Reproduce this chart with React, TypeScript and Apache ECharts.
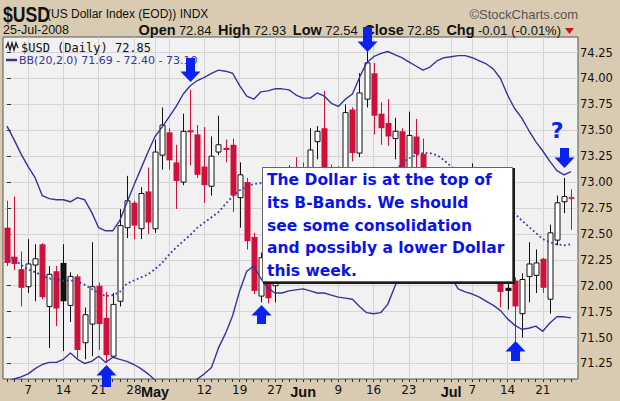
import React, { useEffect, useRef } from 'react';
import * as echarts from 'echarts';

// ---- data (Apr 2 2008 .. Jul 25 2008, trading days) ----
const dates = [
  'Apr 2', 'Apr 3', 'Apr 4', 'Apr 7', 'Apr 8', 'Apr 9', 'Apr 10', 'Apr 11', 'Apr 14', 'Apr 15',
  'Apr 16', 'Apr 17', 'Apr 18', 'Apr 21', 'Apr 22', 'Apr 23', 'Apr 24', 'Apr 25', 'Apr 28', 'Apr 29',
  'Apr 30', 'May 1', 'May 2', 'May 5', 'May 6', 'May 7', 'May 8', 'May 9', 'May 12', 'May 13',
  'May 14', 'May 15', 'May 16', 'May 19', 'May 20', 'May 21', 'May 22', 'May 23', 'May 27', 'May 28',
  'May 29', 'May 30', 'Jun 2', 'Jun 3', 'Jun 4', 'Jun 5', 'Jun 6', 'Jun 9', 'Jun 10', 'Jun 11',
  'Jun 12', 'Jun 13', 'Jun 16', 'Jun 17', 'Jun 18', 'Jun 19', 'Jun 20', 'Jun 23', 'Jun 24', 'Jun 25',
  'Jun 26', 'Jun 27', 'Jun 30', 'Jul 1', 'Jul 2', 'Jul 3', 'Jul 7', 'Jul 8', 'Jul 9', 'Jul 10',
  'Jul 11', 'Jul 14', 'Jul 15', 'Jul 16', 'Jul 17', 'Jul 18', 'Jul 21', 'Jul 22', 'Jul 23', 'Jul 24',
  'Jul 25',
];

const opens = [
  72.56, 72.28, 72.16, 71.99, 72.20, 72.40, 71.80, 72.14, 72.22, 71.81,
  72.09, 71.45, 71.63, 72.00, 71.69, 71.32, 71.85, 72.56, 72.80, 72.55,
  72.91, 72.55, 73.26, 73.48, 73.19, 73.00, 73.50, 73.46, 73.15, 72.96,
  73.29, 73.33, 73.36, 72.85, 73.00, 72.47, 71.90, 72.10, 72.00, 72.05,
  72.55, 73.05, 73.00, 72.95, 73.39, 73.52, 73.10, 72.85, 73.10, 73.70,
  73.28, 73.80, 74.05, 73.66, 73.57, 73.42, 73.49, 73.05, 73.44, 73.27,
  73.10, 72.95, 72.80, 72.55, 72.70, 72.40, 72.55, 72.95, 72.60, 72.30,
  72.10, 71.98, 72.05, 71.73, 72.09, 72.10, 72.26, 71.87, 72.44, 72.81,
  72.84,
];
const highs = [
  72.82, 72.86, 72.33, 72.45, 72.40, 72.41, 72.19, 72.19, 72.40, 72.13,
  72.11, 71.79, 72.42, 72.03, 71.94, 71.93, 72.74, 73.06, 72.82, 72.95,
  73.14, 73.41, 73.72, 73.52, 73.36, 73.66, 73.89, 73.55, 73.53, 73.44,
  73.64, 73.41, 73.42, 73.19, 73.04, 72.51, 72.32, 72.15, 72.15, 72.70,
  73.16, 73.24, 73.19, 73.52, 73.54, 73.88, 73.17, 73.15, 73.75, 73.72,
  74.05, 74.26, 74.15, 73.77, 73.80, 73.62, 73.52, 73.68, 73.61, 73.42,
  73.13, 73.05, 72.90, 72.85, 72.75, 72.70, 73.18, 73.00, 72.65, 72.35,
  72.12, 72.10, 72.08, 72.12, 72.42, 72.35, 72.27, 72.59, 72.87, 73.04,
  72.93,
];
const lows = [
  72.19, 72.15, 71.80, 71.93, 71.85, 71.87, 71.40, 71.61, 71.37, 71.65,
  71.30, 71.29, 71.32, 71.38, 71.26, 71.31, 71.80, 72.46, 72.45, 72.45,
  72.50, 72.51, 73.12, 73.12, 72.74, 72.97, 73.16, 73.04, 72.80, 72.87,
  73.26, 73.19, 72.71, 72.56, 72.35, 71.92, 71.84, 71.83, 71.84, 72.02,
  72.45, 72.65, 72.62, 72.85, 73.22, 72.98, 72.80, 72.80, 73.05, 73.20,
  73.24, 73.72, 73.46, 73.36, 73.35, 73.22, 72.95, 72.98, 73.12, 73.05,
  72.85, 72.70, 72.50, 72.45, 72.30, 72.30, 72.50, 72.50, 72.20, 72.05,
  71.79, 71.77, 71.46, 71.50, 71.84, 71.93, 71.93, 71.73, 72.39, 72.70,
  72.54,
];
const closes = [
  72.22, 72.21, 71.98, 72.21, 72.26, 71.89, 72.11, 71.78, 71.85, 72.09,
  71.38, 71.72, 71.99, 71.63, 71.33, 71.82, 72.58, 72.82, 72.58, 72.89,
  72.61, 73.29, 73.55, 73.21, 73.01, 73.49, 73.48, 73.07, 72.97, 73.25,
  73.36, 73.31, 72.87, 73.07, 72.43, 71.95, 72.27, 71.88, 72.04, 72.55,
  72.95, 72.75, 72.70, 73.31, 73.49, 73.05, 72.90, 73.10, 73.67, 73.28,
  73.86, 74.15, 73.64, 73.52, 73.44, 73.49, 73.05, 73.45, 73.27, 73.14,
  72.95, 72.80, 72.60, 72.70, 72.40, 72.55, 72.95, 72.60, 72.30, 72.10,
  71.94, 71.95, 71.80, 72.06, 72.21, 72.22, 71.98, 72.51, 72.80, 72.86,
  72.85,
];

const bbUpper = [
  73.54, 73.41, 73.27, 73.15, 73.04, 72.87, 72.84, 72.83, 72.83, 72.81,
  72.85, 72.83, 72.71, 72.56, 72.53, 72.53, 72.63, 72.80, 72.97, 73.13,
  73.29, 73.44, 73.53, 73.63, 73.73, 73.85, 73.93, 73.98, 74.01, 74.05,
  74.08, 74.07, 74.05, 73.93, 73.83, 73.80, 73.87, 73.88, 73.90, 73.90,
  73.89, 73.84, 73.81, 73.81, 73.86, 73.83, 73.76, 73.73, 73.80, 73.85,
  74.01, 74.15, 74.21, 74.24, 74.26, 74.23, 74.20, 74.16, 74.12, 74.08,
  74.11, 74.17, 74.20, 74.21, 74.22, 74.22, 74.20, 74.17, 74.14, 74.09,
  74.00, 73.84, 73.71, 73.62, 73.50, 73.39, 73.30, 73.20, 73.11, 73.07,
  73.10,
];
const bbMiddle = [
  72.29, 72.26, 72.20, 72.16, 72.13, 72.10, 72.07, 72.06, 72.05, 72.05,
  72.04, 72.01, 71.97, 71.93, 71.90, 71.91, 71.94, 72.02, 72.05, 72.08,
  72.11, 72.16, 72.22, 72.30, 72.37, 72.43, 72.49, 72.56, 72.61, 72.66,
  72.71, 72.79, 72.86, 72.92, 72.96, 72.98, 72.99, 72.96, 72.93, 72.91,
  72.91, 72.90, 72.88, 72.88, 72.90, 72.89, 72.84, 72.82, 72.84, 72.86,
  72.91, 72.95, 72.97, 72.99, 73.04, 73.11, 73.18, 73.23, 73.26, 73.28,
  73.28, 73.26, 73.21, 73.15, 73.10, 73.08, 73.06, 73.03, 73.00, 72.95,
  72.88, 72.78, 72.70, 72.63, 72.57, 72.51, 72.45, 72.42, 72.40, 72.39,
  72.40,
];
const bbLower = [
  71.07, 71.10, 71.12, 71.15, 71.20, 71.24, 71.26, 71.26, 71.29, 71.35,
  71.29, 71.25, 71.27, 71.32, 71.26, 71.31, 71.29, 71.27, 71.24, 71.20,
  71.15, 71.09, 70.95, 70.93, 70.95, 71.00, 71.05, 71.10, 71.15, 71.21,
  71.40, 71.54, 71.71, 71.95, 72.14, 72.19, 72.07, 71.98, 71.93, 71.93,
  71.95, 71.96, 71.97, 71.95, 71.93, 71.93, 71.91, 71.89, 71.88, 71.87,
  71.80, 71.74, 71.73, 71.74, 71.82, 71.99, 72.15, 72.30, 72.40, 72.48,
  72.44, 72.35, 72.22, 72.08, 71.97, 71.94, 71.92, 71.89, 71.85, 71.81,
  71.76, 71.68, 71.62, 71.58, 71.59, 71.61, 71.56, 71.64, 71.70, 71.70,
  71.69,
];

const yTicks = [71.25, 71.5, 71.75, 72.0, 72.25, 72.5, 72.75, 73.0, 73.25, 73.5, 73.75, 74.0, 74.25];
const xLabelIdx = [3, 8, 13, 18, 21, 28, 33, 38, 42, 47, 52, 57, 63, 66, 71, 76];
const xLabels = ['7', '14', '21', '28', 'May', '12', '19', '27', 'Jun', '9', '16', '23', 'Jul', '7', '14', '21'];
const xGridIdx = [3, 8, 13, 18, 21, 23, 28, 33, 38, 42, 47, 52, 57, 63, 66, 71, 76];
const months = ['May', 'Jun', 'Jul'];

const noteLines = [
  'The Dollar is at the top of',
  'its B-Bands. We should',
  'see some consolidation',
  'and possibly a lower Dollar',
  'this week.',
];

const RED = '#d0103a';
const BAND = '#35359a';
const ARROW = '#0a22f0';
const TAN = '#d8cbb1';

export default function App() {
  const ref = useRef<HTMLDivElement>(null);

  useEffect(() => {
    if (!ref.current) return;
    const chart = echarts.init(ref.current, null, { renderer: 'svg' });
    const X_MIN = -0.567;
    const X_MAX = 80.993;
    const allIdx = dates.map((_, i) => i);
    const candleData = dates.map((_, i) => [
      i, opens[i], closes[i], lows[i], highs[i], i > 0 ? closes[i - 1] : opens[i],
    ]);

    chart.setOption({
      animation: false,
      grid: {
        left: 3, top: 37, width: 575, height: 342,
        show: true, backgroundColor: '#f1f1f1', borderColor: '#555', borderWidth: 1,
      },
      xAxis: [
        {
          type: 'value', min: X_MIN, max: X_MAX, position: 'bottom',
          axisLine: { show: false },
          axisTick: { show: false, customValues: xGridIdx },
          splitLine: { show: true, lineStyle: { color: '#d4d4d4', width: 1 } },
          axisLabel: {
            customValues: xLabelIdx,
            margin: 5,
            color: '#111',
            fontFamily: 'DejaVu Sans',
            fontSize: 12,
            formatter: (v: number) => {
              const k = xLabelIdx.indexOf(Math.round(v));
              const s = k >= 0 ? xLabels[k] : '';
              return months.includes(s) ? `{m|${s}}` : s;
            },
            rich: {
              m: { fontFamily: 'Liberation Sans', fontWeight: 'bold', fontSize: 14.5, color: '#111' },
            },
          },
        },
        {
          type: 'value', min: X_MIN, max: X_MAX, position: 'bottom',
          axisLine: { show: false },
          axisLabel: { show: false },
          splitLine: { show: false },
          axisTick: { show: true, customValues: allIdx, length: 3, lineStyle: { color: '#333', width: 1 } },
        },
      ],
      yAxis: {
        type: 'value', position: 'right', min: 71.10, max: 74.40,
        axisLine: { show: false },
        axisTick: { show: true, customValues: yTicks, length: 4, lineStyle: { color: '#333' } },
        splitLine: { show: true, lineStyle: { color: '#d4d4d4', width: 1 } },
        axisLabel: {
          customValues: yTicks,
          formatter: (v: number) => v.toFixed(2),
          margin: 2,
          color: '#111',
          fontFamily: 'DejaVu Sans',
          fontSize: 11.5,
        },
      },
      series: [
        {
          type: 'custom',
          name: 'USD',
          xAxisIndex: 0,
          yAxisIndex: 0,
          clip: true,
          encode: { x: 0, y: [1, 2, 3, 4] },
          data: candleData,
          z: 2,
          renderItem: (_params: any, api: any) => {
            const i = api.value(0);
            const o = api.value(1), c = api.value(2), l = api.value(3), h = api.value(4), pc = api.value(5);
            const pO = api.coord([i, o]);
            const pC = api.coord([i, c]);
            const pL = api.coord([i, l]);
            const pH = api.coord([i, h]);
            const x = Math.round(pO[0]);
            const hollow = c > o;
            const color = c < pc ? RED : '#111';
            const top = Math.min(pO[1], pC[1]);
            const bot = Math.max(pO[1], pC[1]);
            const children: any[] = [
              { type: 'line', shape: { x1: x + 0.5, y1: pH[1], x2: x + 0.5, y2: pL[1] }, style: { stroke: color, lineWidth: 1 } },
            ];
            if (hollow) {
              children.push({ type: 'rect', shape: { x: x - 2, y: top, width: 5, height: Math.max(bot - top, 1) }, style: { fill: '#fff', stroke: color, lineWidth: 1 } });
            } else {
              children.push({ type: 'rect', shape: { x: x - 2.5, y: top, width: 6, height: Math.max(bot - top, 1.5) }, style: { fill: color } });
            }
            return { type: 'group', children };
          },
        },
        {
          type: 'line', name: 'BB upper', data: bbUpper.map((v, i) => [i, v]), showSymbol: false, z: 3,
          lineStyle: { color: BAND, width: 1.4 }, silent: true,
        },
        {
          type: 'line', name: 'BB lower', data: bbLower.map((v, i) => [i, v]), showSymbol: false, z: 3,
          lineStyle: { color: BAND, width: 1.4 }, silent: true,
        },
        {
          type: 'line', name: 'BB middle', data: bbMiddle.map((v, i) => [i, v]), showSymbol: false, z: 3,
          lineStyle: { color: '#3c3ca4', width: 1.8, type: [1.8, 2.6] }, silent: true,
        },
      ],
    });

    const px = (i: number) => chart.convertToPixel({ xAxisIndex: 0 }, i) as number;
    const downArrow = (i: number, top: number, tip: number) => {
      const cx = Math.round(px(i)) + 0.5;
      const hb = tip - 10.5;
      return {
        type: 'polygon', z: 100,
        shape: { points: [[cx - 4.5, top], [cx + 4.5, top], [cx + 4.5, hb], [cx + 10, hb], [cx, tip], [cx - 10, hb], [cx - 4.5, hb]] },
        style: { fill: ARROW },
      };
    };
    const upArrow = (i: number, tip: number, bottom: number) => {
      const cx = Math.round(px(i)) + 0.5;
      const hb = tip + 10.5;
      return {
        type: 'polygon', z: 100,
        shape: { points: [[cx, tip], [cx + 10, hb], [cx + 4.5, hb], [cx + 4.5, bottom], [cx - 4.5, bottom], [cx - 4.5, hb], [cx - 10, hb]] },
        style: { fill: ARROW },
      };
    };

    const graphics: any[] = [
      // header
      { type: 'text', x: 3, y: 14, z: 50, scaleX: 0.8, style: { text: '$USD', fontFamily: 'Liberation Sans', fontWeight: 'bold', fontSize: 22, fill: '#111', verticalAlign: 'middle' } },
      { type: 'text', x: 47, y: 14, z: 50, style: { text: '(US Dollar Index (EOD)) INDX', fontFamily: 'Liberation Sans', fontSize: 12, fill: '#111', verticalAlign: 'middle' } },
      { type: 'text', x: 578, y: 14, z: 50, style: { text: '\u00A9StockCharts.com', fontFamily: 'Liberation Sans', fontSize: 13, fill: '#555', align: 'right', verticalAlign: 'middle' } },
      { type: 'text', x: 3, y: 30, z: 50, style: { text: '25-Jul-2008', fontFamily: 'Liberation Sans', fontSize: 12.5, fill: '#111', verticalAlign: 'middle' } },
      {
        type: 'text', x: 561, y: 30, z: 50,
        style: {
          text: '{b|Open} {n|72.84}  {b|High} {n|72.93}  {b|Low} {n|72.54}  {b|Close} {n|72.85}  {b|Chg} {n|-0.01 (-0.01%)}',
          align: 'right', verticalAlign: 'middle',
          rich: {
            b: { fontFamily: 'Liberation Sans', fontWeight: 'bold', fontSize: 14.5, fill: '#111', lineHeight: 14 },
            n: { fontFamily: 'Liberation Sans', fontSize: 13, fill: '#111', lineHeight: 14 },
          },
        },
      },
      { type: 'polygon', z: 50, shape: { points: [[565, 28], [574, 28], [569.5, 34]] }, style: { fill: '#cc1122' } },
      // in-plot legend
      { type: 'polyline', z: 50, shape: { points: [[6, 48], [8, 43], [10, 50], [12, 43], [14, 50], [16, 43], [18, 48]] }, style: { stroke: '#222', lineWidth: 1.4, fill: null } },
      { type: 'text', x: 21, y: 47.5, z: 50, style: { text: '$USD (Daily) 72.85', fontFamily: 'DejaVu Sans Mono', fontSize: 12, fill: '#111', verticalAlign: 'middle' } },
      { type: 'line', z: 50, shape: { x1: 6, y1: 60, x2: 17, y2: 60 }, style: { stroke: BAND, lineWidth: 2.5 } },
      { type: 'text', x: 19, y: 60.5, z: 50, style: { text: 'BB(20,2.0) 71.69 - 72.40 - 73.10', fontFamily: 'DejaVu Sans', fontSize: 11, fill: BAND, verticalAlign: 'middle' } },
      // note box
      { type: 'rect', z: 60, shape: { x: 263, y: 168, width: 252, height: 116 }, style: { fill: '#1a1a1a' } },
      { type: 'rect', z: 61, shape: { x: 262.5, y: 167.5, width: 250, height: 114 }, style: { fill: '#ffffff', stroke: '#666', lineWidth: 1 } },
      ...noteLines.map((t, k) => ({
        type: 'text', x: 267, y: 180 + k * 22.8, z: 62,
        style: { text: t, fontFamily: 'DejaVu Sans', fontWeight: 'bold', fontSize: 15.5, fill: '#0a14e8', verticalAlign: 'middle' },
      })),
      // question mark
      { type: 'text', x: 557, y: 130, z: 100, style: { text: '?', fontFamily: 'DejaVu Sans', fontWeight: 'bold', fontSize: 22, fill: ARROW, align: 'center', verticalAlign: 'middle' } },
      // arrows
      downArrow(26, 58, 82),
      downArrow(51, 27, 52),
      downArrow(79, 148, 168),
      upArrow(14, 365, 387),
      upArrow(36, 305, 324),
      upArrow(72, 341, 361),
    ];
    chart.setOption({ graphic: graphics });

    return () => chart.dispose();
  }, []);

  return (
    <div style={{ position: 'fixed', left: 0, top: 0, width: 620, height: 401, background: TAN }}>
      <div ref={ref} style={{ width: 620, height: 401 }} />
    </div>
  );
}
